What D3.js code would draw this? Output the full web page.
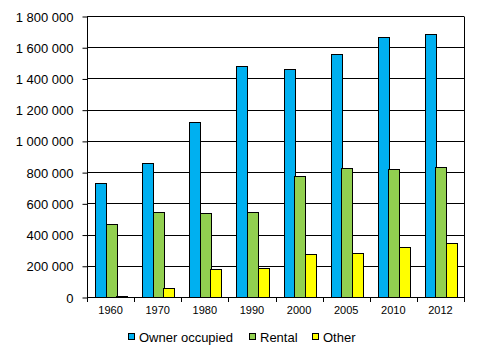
<!DOCTYPE html>
<html><head><meta charset="utf-8">
<script src="https://cdn.jsdelivr.net/npm/d3@7"></script>
<style>body{margin:0;background:#fff}svg{display:block}text{font-family:"Liberation Sans",Arial,sans-serif;font-size:12px;fill:#000}</style>
</head><body>
<svg id="c" width="480" height="357"></svg>
<script>
const categories = ["1960","1970","1980","1990","2000","2005","2010","2012"];
const seriesNames = ["Owner occupied","Rental","Other"];
const owner = [730000, 856000, 1119000, 1478000, 1459000, 1557000, 1663000, 1683000];
const rental = [466000, 543000, 536000, 543000, 775000, 824000, 818000, 833000];
const other = [5000, 58000, 179000, 184000, 273000, 280000, 318000, 344000];
const yTicks = [0,200000,400000,600000,800000,1000000,1200000,1400000,1600000,1800000];
const colors = ["#00B0F0","#92D050","#FFFF00"];
const series = [owner, rental, other];

const svg = d3.select("#c");
const L=87, R=464, T=16, B=297;
const x = d3.scaleBand().domain(categories).range([L,R]).paddingInner(0).paddingOuter(0);
const bw = x.bandwidth();
const xi = d3.scaleBand().domain(seriesNames).range([bw*0.17,bw*0.845]).padding(0);
const y = d3.scaleLinear().domain([0,1800000]).range([B,T]);
const fmt = v => d3.format(",")(v).replace(/,/g," ");

// gridlines
svg.append("g").selectAll("line").data(yTicks.filter(d=>d>0)).join("line")
  .attr("x1",L).attr("x2",R).attr("y1",d=>Math.round(y(d))+0.5).attr("y2",d=>Math.round(y(d))+0.5)
  .attr("stroke","#000").attr("stroke-width",1);
// frame right
svg.append("line").attr("x1",R+0.5).attr("x2",R+0.5).attr("y1",T+0.5).attr("y2",B).attr("stroke","#000");

// bars
const g = svg.append("g");
categories.forEach((c,i)=>{
  series.forEach((s,j)=>{
    const x0 = x(c)+xi(seriesNames[j]);
    g.append("rect")
      .attr("x",Math.round(x0)+0.5).attr("width",Math.round(xi.bandwidth()))
      .attr("y",Math.round(y(s[i]))+0.5).attr("height",Math.max(0,Math.round(B-y(s[i]))))
      .attr("fill",colors[j]).attr("stroke","#000").attr("stroke-width",1);
  });
});

// y axis
const ya = d3.axisLeft(y).tickValues(yTicks).tickFormat(fmt).tickSize(5).tickPadding(9);
const yg = svg.append("g").attr("transform",`translate(${L+0.5},0.5)`).call(ya);
yg.select(".domain").attr("d",`M0,${T}V${B}`);
yg.selectAll("text").style("font-size","13px").attr("dy","0.35em");
// x axis
const xa = d3.axisBottom(x).tickSize(0).tickPadding(9);
const xg = svg.append("g").attr("transform",`translate(0,${B+0.5})`).call(xa);
xg.select(".domain").attr("d",`M${L},0H${R+1}`);
xg.selectAll("text").style("font-size","11px");
svg.append("g").selectAll("line").data(d3.range(categories.length+1)).join("line")
  .attr("x1",d=>Math.round(L+d*bw)+0.5).attr("x2",d=>Math.round(L+d*bw)+0.5)
  .attr("y1",B).attr("y2",B+5).attr("stroke","#000");

// legend
const leg = [{n:"Owner occupied",x:128},{n:"Rental",x:249},{n:"Other",x:312}];
leg.forEach((d,j)=>{
  svg.append("rect").attr("x",d.x+0.5).attr("y",333.5).attr("width",6).attr("height",6)
    .attr("fill",colors[j]).attr("stroke","#000");
  svg.append("text").attr("x",d.x+11).attr("y",341.5).text(d.n).style("font-size","13px");
});
</script>
</body></html>
